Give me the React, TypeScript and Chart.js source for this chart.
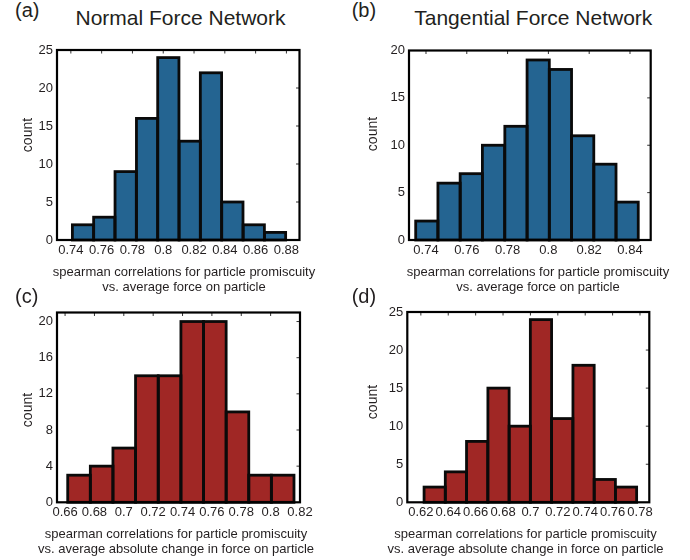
import React, { useEffect, useRef } from "react";
import { Chart, registerables } from "chart.js";

Chart.register(...registerables);

const FONT = "'Liberation Sans', Arial, Helvetica, sans-serif";
const TEXT = "#231f20";
const BLUE = "#246491";
const RED = "#a02725";

// ---- Panel (a): Normal force network, force ----
const binsA = [0.7479, 0.7617, 0.7756, 0.7895, 0.8033, 0.8172, 0.831, 0.8449, 0.8588, 0.8726];
const countsA = [2, 3, 9, 16, 24, 13, 22, 5, 2, 1];
const xTicksA = [0.74, 0.76, 0.78, 0.8, 0.82, 0.84, 0.86, 0.88];
const yTicksA = [0, 5, 10, 15, 20, 25];

// ---- Panel (b): Tangential force network, force ----
const binsB = [0.7404, 0.7513, 0.7622, 0.7731, 0.7841, 0.795, 0.8059, 0.8168, 0.8277, 0.8386];
const countsB = [2, 6, 7, 10, 12, 19, 18, 11, 8, 4];
const xTicksB = [0.74, 0.76, 0.78, 0.8, 0.82, 0.84];
const yTicksB = [0, 5, 10, 15, 20];

// ---- Panel (c): Normal force network, absolute change ----
const binsC = [0.6695, 0.6849, 0.7003, 0.7157, 0.7312, 0.7466, 0.762, 0.7774, 0.7928, 0.8082];
const countsC = [3, 4, 6, 14, 14, 20, 20, 10, 3, 3];
const xTicksC = [0.66, 0.68, 0.7, 0.72, 0.74, 0.76, 0.78, 0.8, 0.82];
const yTicksC = [0, 4, 8, 12, 16, 20];

// ---- Panel (d): Tangential force network, absolute change ----
const binsD = [0.6301, 0.6456, 0.6611, 0.6767, 0.6922, 0.7077, 0.7232, 0.7388, 0.7543, 0.7698];
const countsD = [2, 4, 8, 15, 10, 24, 11, 18, 3, 2];
const xTicksD = [0.62, 0.64, 0.66, 0.68, 0.7, 0.72, 0.74, 0.76, 0.78];
const yTicksD = [0, 5, 10, 15, 20, 25];

const titleTop = "Normal Force Network";
const titleTopRight = "Tangential Force Network";
const yTitle = "count";
const xTitleForce = ["spearman correlations for particle promiscuity", "vs. average force on particle"];
const xTitleChange = [
  "spearman correlations for particle promiscuity",
  "vs. average absolute change in force on particle",
];

type Panel = {
  bins: number[];
  counts: number[];
  xTicks: number[];
  yTicks: number[];
  xMin: number;
  xMax: number;
  yMax: number;
  color: string;
  box: { l: number; t: number; r: number; b: number };
  cv: { left: number; top: number; w: number; h: number };
  xPad: number;
};

const panels: Panel[] = [
  {
    bins: binsA, counts: countsA, xTicks: xTicksA, yTicks: yTicksA,
    xMin: 0.731, xMax: 0.8885, yMax: 25, color: BLUE,
    box: { l: 57, t: 50, r: 299.5, b: 240 },
    cv: { left: 0, top: 30, w: 345, h: 240 }, xPad: 2.7,
  },
  {
    bins: binsB, counts: countsB, xTicks: xTicksB, yTicks: yTicksB,
    xMin: 0.73167, xMax: 0.85015, yMax: 20, color: BLUE,
    box: { l: 409, t: 50.5, r: 650.7, b: 240 },
    cv: { left: 345, top: 30, w: 345, h: 240 }, xPad: 2.7,
  },
  {
    bins: binsC, counts: countsC, xTicks: xTicksC, yTicks: yTicksC,
    xMin: 0.6545, xMax: 0.82, yMax: 21, color: RED,
    box: { l: 57, t: 312.5, r: 300, b: 502.3 },
    cv: { left: 0, top: 295, w: 345, h: 235 }, xPad: 2,
  },
  {
    bins: binsD, counts: countsD, xTicks: xTicksD, yTicks: yTicksD,
    xMin: 0.6101, xMax: 0.7868, yMax: 25, color: RED,
    box: { l: 407.3, t: 312, r: 649.3, b: 502.3 },
    cv: { left: 345, top: 295, w: 345, h: 235 }, xPad: 2,
  },
];

const fmt = (v: number) => String(Number(Number(v).toFixed(3)));

const histPlugin = {
  id: "histFrame",
  afterDatasetsDraw(chart: any) {
    const ctx = chart.ctx;
    const meta = chart.getDatasetMeta(0);
    ctx.save();
    ctx.strokeStyle = "#0a0a0a";
    ctx.lineWidth = 2.8;
    ctx.lineJoin = "miter";
    meta.data.forEach((el: any) => {
      const { x, y, base, width } = el.getProps(["x", "y", "base", "width"], true);
      ctx.strokeRect(x - width / 2, y, width, base - y);
    });
    ctx.restore();
  },
  afterDraw(chart: any) {
    const ctx = chart.ctx;
    const { left, top, right, bottom } = chart.chartArea;
    const xs = chart.scales.x;
    const ys = chart.scales.y;
    ctx.save();
    ctx.strokeStyle = "#333333";
    ctx.lineWidth = 1;
    xs.ticks.forEach((t: any) => {
      const px = xs.getPixelForValue(t.value);
      if (px <= left + 2 || px >= right - 2) return;
      ctx.beginPath();
      ctx.moveTo(px, top);
      ctx.lineTo(px, top + 3.5);
      ctx.stroke();
    });
    ys.ticks.forEach((t: any) => {
      const py = ys.getPixelForValue(t.value);
      if (py <= top + 2 || py >= bottom - 2) return;
      ctx.beginPath();
      ctx.moveTo(right, py);
      ctx.lineTo(right - 3.5, py);
      ctx.stroke();
    });
    ctx.strokeStyle = "#000000";
    ctx.lineWidth = 2.2;
    ctx.strokeRect(left, top, right - left, bottom - top);
    ctx.restore();
  },
};

function Hist({ p }: { p: Panel }) {
  const ref = useRef<HTMLCanvasElement>(null);
  const { box, cv } = p;
  useEffect(() => {
    const canvas = ref.current;
    if (!canvas) return;
    const tickFont = { size: 13, family: FONT, lineHeight: 1.2 };
    const chart = new Chart(canvas, {
      type: "bar",
      data: {
        datasets: [
          {
            data: p.bins.map((x, i) => ({ x, y: p.counts[i] })),
            backgroundColor: p.color,
            borderWidth: 0,
            barPercentage: 1,
            categoryPercentage: 1,
          },
        ],
      },
      options: {
        responsive: false,
        maintainAspectRatio: false,
        animation: false,
        devicePixelRatio: 1,
        events: [],
        layout: {
          padding: { left: 0, top: box.t - cv.top, right: cv.left + cv.w - box.r, bottom: 0 },
        },
        plugins: {
          legend: { display: false },
          tooltip: { enabled: false },
          title: { display: false },
        },
        scales: {
          x: {
            type: "linear",
            min: p.xMin,
            max: p.xMax,
            offset: false,
            grid: { display: false, drawTicks: false, tickLength: 0 },
            border: { display: false },
            ticks: {
              padding: p.xPad,
              font: tickFont,
              color: TEXT,
              maxRotation: 0,
              minRotation: 0,
              autoSkip: false,
              callback: (v: any) => fmt(v),
            },
            afterBuildTicks: (s: any) => {
              s.ticks = p.xTicks.map((v) => ({ value: v }));
            },
            afterFit: (s: any) => {
              s.height = cv.top + cv.h - box.b;
            },
          },
          y: {
            type: "linear",
            min: 0,
            max: p.yMax,
            grid: { display: false, drawTicks: false, tickLength: 0 },
            border: { display: false },
            ticks: {
              padding: 4,
              font: tickFont,
              color: TEXT,
              autoSkip: false,
              callback: (v: any) => fmt(v),
            },
            afterBuildTicks: (s: any) => {
              s.ticks = p.yTicks.map((v) => ({ value: v }));
            },
            afterFit: (s: any) => {
              s.width = box.l - cv.left;
            },
          },
        },
      },
      plugins: [histPlugin],
    } as any);
    return () => chart.destroy();
  }, []);
  return (
    <canvas
      ref={ref}
      width={cv.w}
      height={cv.h}
      style={{ position: "absolute", left: cv.left, top: cv.top, width: cv.w, height: cv.h, display: "block" }}
    />
  );
}

const textBase: React.CSSProperties = {
  position: "absolute",
  fontFamily: FONT,
  color: TEXT,
  whiteSpace: "nowrap",
};

function Letter({ text, left, top }: { text: string; left: number; top: number }) {
  return <div style={{ ...textBase, left, top, fontSize: 20, lineHeight: "20px" }}>{text}</div>;
}

function Title({ text, cx, top }: { text: string; cx: number; top: number }) {
  return (
    <div style={{ ...textBase, left: cx - 160, width: 320, top, fontSize: 21, lineHeight: "21px", textAlign: "center" }}>
      {text}
    </div>
  );
}

function YTitle({ cx, cy }: { cx: number; cy: number }) {
  return (
    <div
      style={{
        ...textBase,
        left: cx - 30,
        top: cy - 10,
        width: 60,
        height: 20,
        fontSize: 14,
        lineHeight: "20px",
        textAlign: "center",
        transform: "rotate(-90deg)",
        transformOrigin: "50% 50%",
      }}
    >
      {yTitle}
    </div>
  );
}

function XTitle({ lines, cx, top }: { lines: string[]; cx: number; top: number }) {
  return (
    <div style={{ ...textBase, left: cx - 170, width: 340, top, fontSize: 13, lineHeight: "15px", textAlign: "center" }}>
      {lines.map((l, i) => (
        <div key={i}>{l}</div>
      ))}
    </div>
  );
}

export default function App() {
  return (
    <div
      style={{
        position: "absolute",
        left: 0,
        top: 0,
        width: 690,
        height: 560,
        background: "#ffffff",
        overflow: "hidden",
      }}
    >
      {panels.map((p, i) => (
        <Hist key={i} p={p} />
      ))}
      <Letter text="(a)" left={15} top={0} />
      <Letter text="(b)" left={351.7} top={0} />
      <Letter text="(c)" left={15} top={286} />
      <Letter text="(d)" left={351.7} top={286} />
      <Title text={titleTop} cx={180.5} top={7.2} />
      <Title text={titleTopRight} cx={533.3} top={7.2} />
      <YTitle cx={26.85} cy={134.5} />
      <YTitle cx={371.85} cy={134.2} />
      <YTitle cx={26.85} cy={410} />
      <YTitle cx={371.85} cy={401.7} />
      <XTitle lines={xTitleForce} cx={184} top={264} />
      <XTitle lines={xTitleForce} cx={538} top={264} />
      <XTitle lines={xTitleChange} cx={176} top={525.6} />
      <XTitle lines={xTitleChange} cx={525.5} top={525.6} />
    </div>
  );
}
